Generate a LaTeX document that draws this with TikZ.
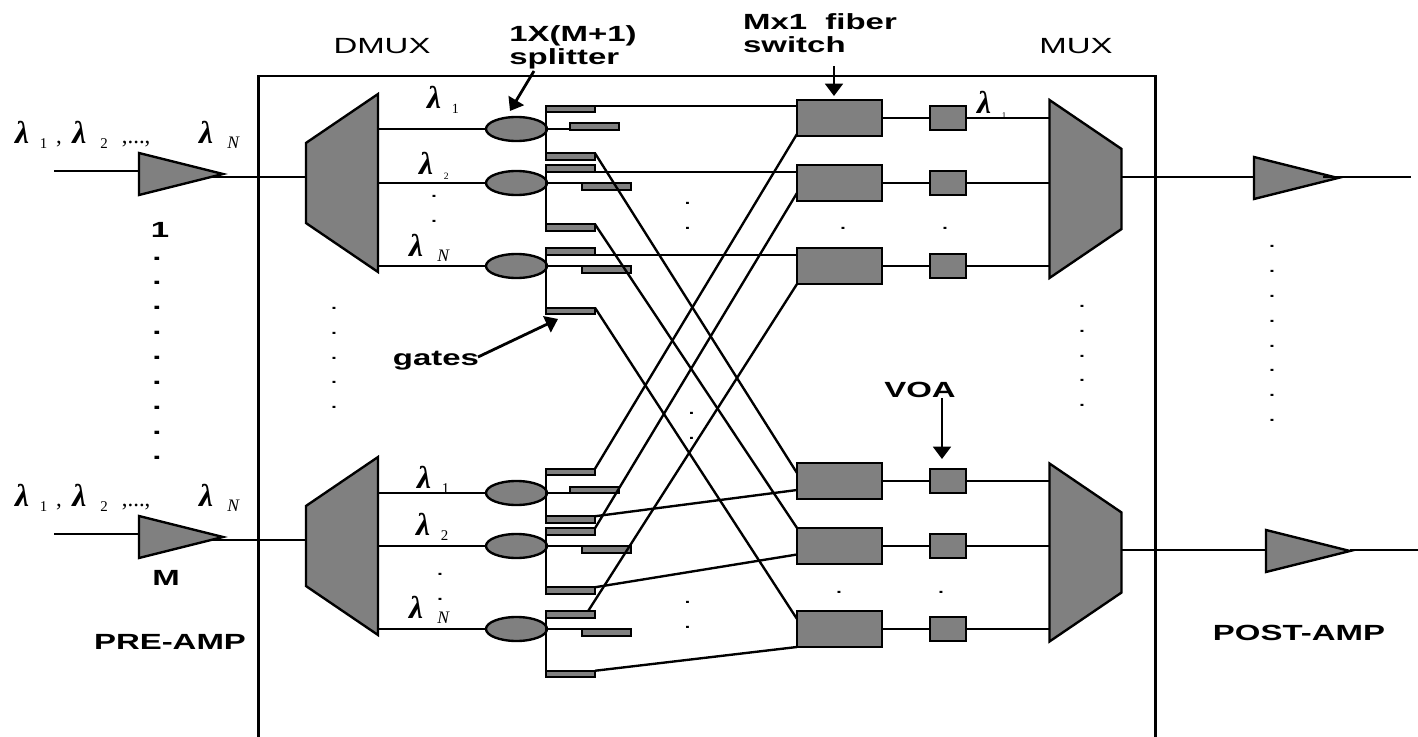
\documentclass[tikz,border=0pt]{standalone}
\usepackage{fontspec}
\usepackage{xcolor}
\usepackage{tikz}
\usetikzlibrary{arrows.meta,shapes.geometric}
\newfontfamily\lblfont[FakeStretch=1.5]{Liberation Sans}
\newfontfamily\subfont{Liberation Serif}
\definecolor{devfill}{HTML}{808080}
\newcommand{\wl}[2][8.5]{{\subfont\itshape\bfseries\fontsize{18}{18}\selectfont λ}\hspace{6pt}\raisebox{-3pt}{\subfont\fontsize{#1}{#1}\selectfont #2}}
\newcommand{\wlsep}[1]{{\subfont\fontsize{13}{13}\selectfont #1}}

\begin{document}
\begin{tikzpicture}[x=0.02cm, y=-0.02cm, line width=1.35pt,
  amp/.style={draw, fill=devfill, isosceles triangle, isosceles triangle stretches, minimum width=0.84cm, minimum height=1.68cm, inner sep=1pt, outer sep=0pt, anchor=west},
  dmux/.style={draw, fill=devfill, trapezium, trapezium stretches, trapezium angle=58.6, shape border rotate=90, minimum width=3.56cm, minimum height=1.44cm, inner sep=1pt, outer sep=0pt},
  mux/.style={dmux, shape border rotate=270},
  splitter/.style={draw, fill=devfill, ellipse, minimum width=1.22cm, minimum height=0.48cm, inner sep=0pt, outer sep=0pt},
  gate/.style={draw, fill=devfill, minimum width=0.98cm, minimum height=0.13cm, inner sep=0pt, outer sep=0pt},
  switch/.style={draw, fill=devfill, minimum width=1.7cm, minimum height=0.72cm, inner sep=0pt, outer sep=0pt},
  voa/.style={draw, fill=devfill, minimum width=0.73cm, minimum height=0.48cm, inner sep=0pt, outer sep=0pt},
  lbl/.style={font=\lblfont\bfseries\fontsize{12.5}{13}\selectfont, align=left, inner sep=0pt},
  plainlbl/.style={font=\lblfont\fontsize{12.5}{13}\selectfont, inner sep=0pt},
  wave/.style={anchor=base west, inner sep=0pt},
  dotcol/.style={font=\lblfont\fontsize{11.5}{14.17}\selectfont, align=center, inner sep=0pt},
  bdotcol/.style={dotcol, font=\lblfont\bfseries\fontsize{12.5}{14.17}\selectfont},
  ptr/.style={-{Triangle[length=7pt,width=10pt]}, line width=1.6pt}
]
  \useasboundingbox (0,0) rectangle (1418,737);
  \draw (258.5,737) -- (258.5,76) -- (1155.5,76) -- (1155.5,737);

  \node[amp] (amp1) at (139,174) {};
  \node[amp] (ampM) at (139,537) {};
  \node[amp] (post1) at (1254,178) {};
  \node[amp] (postM) at (1266,551) {};
  \node[dmux] (dm1) at (342,183) {};
  \node[dmux] (dmM) at (342,546) {};
  \node[mux] (mx1) at (1085.5,189) {};
  \node[mux] (mxM) at (1085.5,552.5) {};

  \node[splitter] (e1) at (516.5,129) {};
  \node[splitter] (e2) at (516.5,183) {};
  \node[splitter] (e3) at (516.5,266) {};
  \node[splitter] (e4) at (516.5,493) {};
  \node[splitter] (e5) at (516.5,546) {};
  \node[splitter] (e6) at (516.5,629) {};

  \node[gate] (g1a) at (570.5,109) {};
  \node[gate] (g1b) at (594.5,126.5) {};
  \node[gate] (g1c) at (570.5,156.5) {};
  \node[gate] (g2a) at (570.5,168.5) {};
  \node[gate] (g2b) at (606.5,186.5) {};
  \node[gate] (g2c) at (570.5,227.5) {};
  \node[gate] (g3a) at (570.5,251.5) {};
  \node[gate] (g3b) at (606.5,269.5) {};
  \node[gate] (g3c) at (570.5,311) {};
  \node[gate] (g4a) at (570.5,472) {};
  \node[gate] (g4b) at (594.5,490) {};
  \node[gate] (g4c) at (570.5,519.5) {};
  \node[gate] (g5a) at (570.5,531.5) {};
  \node[gate] (g5b) at (606.5,549.5) {};
  \node[gate] (g5c) at (570.5,590.5) {};
  \node[gate] (g6a) at (570.5,614.5) {};
  \node[gate] (g6b) at (606.5,632.5) {};
  \node[gate] (g6c) at (570.5,674) {};

  \node[switch] (s1) at (839.5,118) {};
  \node[switch] (s2) at (839.5,183) {};
  \node[switch] (s3) at (839.5,266) {};
  \node[switch] (s4) at (839.5,481) {};
  \node[switch] (s5) at (839.5,546) {};
  \node[switch] (s6) at (839.5,629) {};

  \node[voa] (v1) at (948,118) {};
  \node[voa] (v2) at (948,183) {};
  \node[voa] (v3) at (948,266) {};
  \node[voa] (v4) at (948,481) {};
  \node[voa] (v5) at (948,546) {};
  \node[voa] (v6) at (948,629) {};

  \coordinate (in1) at (54,171);
  \coordinate (inM) at (54,534);
  \coordinate (amp1out) at (212,177);
  \coordinate (ampMout) at (212,540);
  \coordinate (mx1out) at (1121,177);
  \coordinate (mxMout) at (1121,550);
  \coordinate (out1) at (1411,177);
  \coordinate (outM) at (1418,550);

  \draw (in1) -- (in1 -| amp1.west);
  \draw (inM) -- (inM -| ampM.west);
  \draw (amp1out) -- (amp1out -| dm1.west);
  \draw (ampMout) -- (ampMout -| dmM.west);
  \draw (mx1out) -- (post1.west |- mx1out);
  \draw ([xshift=-0.3cm]post1.east |- out1) -- (out1);
  \draw (mxMout) -- (postM.west |- mxMout);
  \draw (postM.east |- outM) -- (outM);

  \draw (e1 -| dm1.east) -- (e1.west);
  \draw (e2 -| dm1.east) -- (e2.west);
  \draw (e3 -| dm1.east) -- (e3.west);
  \draw (e4 -| dmM.east) -- (e4.west);
  \draw (e5 -| dmM.east) -- (e5.west);
  \draw (e6 -| dmM.east) -- (e6.west);

  \draw (g1a.north west) -- (g1c.south west);
  \draw (g2a.north west) -- (g2c.south west);
  \draw (g3a.north west) -- (g3c.south west);
  \draw (g4a.north west) -- (g4c.south west);
  \draw (g5a.north west) -- (g5c.south west);
  \draw (g6a.north west) -- (g6c.south west);

  \draw (e1.east) -- (e1.east -| g1b.west);
  \draw (e2.east) -- (e2.east -| g2b.west);
  \draw (e3.east) -- (e3.east -| g3b.west);
  \draw (e4.east) -- (e4.east -| g4b.west);
  \draw (e5.east) -- (e5.east -| g5b.west);
  \draw (e6.east) -- (e6.east -| g6b.west);

  \draw (g1a.north east) -- (g1a.north east -| s1.west);
  \draw (g2a.south east) -- (g2a.south east -| s2.west);
  \draw (g3a.south east) -- (g3a.south east -| s3.west);

  \draw (g1c.north east) -- ([yshift=0.16cm]s4.west);
  \draw (g2c.north east) -- (s5.north west);
  \draw (g3c.north east) -- ([yshift=0.2cm]s6.west);
  \draw (g4a.north east) -- ([yshift=0.04cm]s1.south west);
  \draw (g5a.north east) -- ([yshift=-0.2cm]s2.west);
  \draw ([xshift=-0.14cm]g6a.north east) -- (s3.south west);
  \draw (g4c.north east) -- ([yshift=-0.18cm]s4.west);
  \draw (g5c.north east) -- ([yshift=-0.17cm]s5.west);
  \draw (g6c.north east) -- (s6.south west);

  \draw (s1) -- (v1);
  \draw (s2) -- (v2);
  \draw (s3) -- (v3);
  \draw (s4) -- (v4);
  \draw (s5) -- (v5);
  \draw (s6) -- (v6);
  \draw (v1.east) -- (v1.east -| mx1.west);
  \draw (v2.east) -- (v2.east -| mx1.west);
  \draw (v3.east) -- (v3.east -| mx1.west);
  \draw (v4.east) -- (v4.east -| mxM.west);
  \draw (v5.east) -- (v5.east -| mxM.west);
  \draw (v6.east) -- (v6.east -| mxM.west);

  \node[plainlbl] (dmuxlbl) at (382,46) {DMUX};
  \node[plainlbl] (muxlbl) at (1076,46) {MUX};
  \node[lbl] (splitlbl) at (573,47) {1X(M+1)\\splitter};
  \node[lbl] (fiberlbl) at (820,33) {Mx1\ \ fiber\\switch};
  \node[lbl] (gatelbl) at (436,361) {gates};
  \node[lbl] (voalbl) at (920,390) {VOA};
  \node[lbl] (onelbl) at (160,230) {1};
  \node[lbl] (mlbl) at (166,578) {M};
  \node[lbl] (prelbl) at (170,642) {PRE-AMP};
  \node[lbl] (postlbl) at (1299,633) {POST-AMP};

  \coordinate (splitfrom) at (534,71);
  \coordinate (splitto) at (510,111);
  \coordinate (fiberfrom) at (834,66);
  \coordinate (fiberto) at (834,96);
  \coordinate (voafrom) at (942,398);
  \coordinate (voato) at (942,459);
  \coordinate (gatefrom) at (478,357);
  \coordinate (gateto) at (558,319);
  \draw[ptr] (splitfrom) -- (splitto);
  \draw[ptr] (fiberfrom) -- (fiberto);
  \draw[ptr] (voafrom) -- (voato);
  \draw[ptr] (gatefrom) -- (gateto);

  \node[wave] (wlin1) at (14,143) {\wl{1}\hspace{5pt}\wlsep{,}\hspace{6pt}\wl{\hspace{2pt}2}\hspace{8pt}\wlsep{,...,}};
  \node[wave] (wlin1n) at (198,143) {\wl[10]{\hspace{2pt}\itshape N}};
  \node[wave] (wlinM) at (14,506) {\wl{1}\hspace{5pt}\wlsep{,}\hspace{6pt}\wl{\hspace{2pt}2}\hspace{8pt}\wlsep{,...,}};
  \node[wave] (wlinMn) at (198,506) {\wl[10]{\hspace{2pt}\itshape N}};
  \node[wave] (wl1) at (426,108) {\wl[8]{1}};
  \node[wave] (wl2) at (418,174) {\wl[5.5]{2}};
  \node[wave] (wl3) at (408,256) {\wl[10]{\hspace{2pt}\itshape N}};
  \node[wave] (wl4) at (976,113) {\wl[5]{1}};
  \node[wave] (wl5) at (416,488) {\wl{1}};
  \node[wave] (wl6) at (415,535) {\wl{2}};
  \node[wave] (wl7) at (408,618) {\wl[10]{\hspace{2pt}\itshape N}};

  \node[bdotcol] (dotsa) at (157,358) {.\\.\\.\\.\\.\\.\\.\\.\\.};
  \node[dotcol] (dotsb) at (334,358) {.\\.\\.\\.\\.};
  \node[dotcol] (dotsc) at (434,209) {.\\.};
  \node[dotcol] (dotsd) at (687.5,215.5) {.\\.};
  \node[dotcol] (dotse) at (843,228) {.};
  \node[dotcol] (dotsf) at (945,228) {.};
  \node[dotcol] (dotsg) at (1082,356) {.\\.\\.\\.\\.};
  \node[dotcol] (dotsh) at (1272,333.5) {.\\.\\.\\.\\.\\.\\.\\.};
  \node[dotcol] (dotsi) at (691.5,425.5) {.\\.};
  \node[dotcol] (dotsj) at (440,587) {.\\.};
  \node[dotcol] (dotsk) at (687.5,614.5) {.\\.};
  \node[dotcol] (dotsl) at (839,592) {.};
  \node[dotcol] (dotsm) at (941,592) {.};
\end{tikzpicture}
\end{document}
